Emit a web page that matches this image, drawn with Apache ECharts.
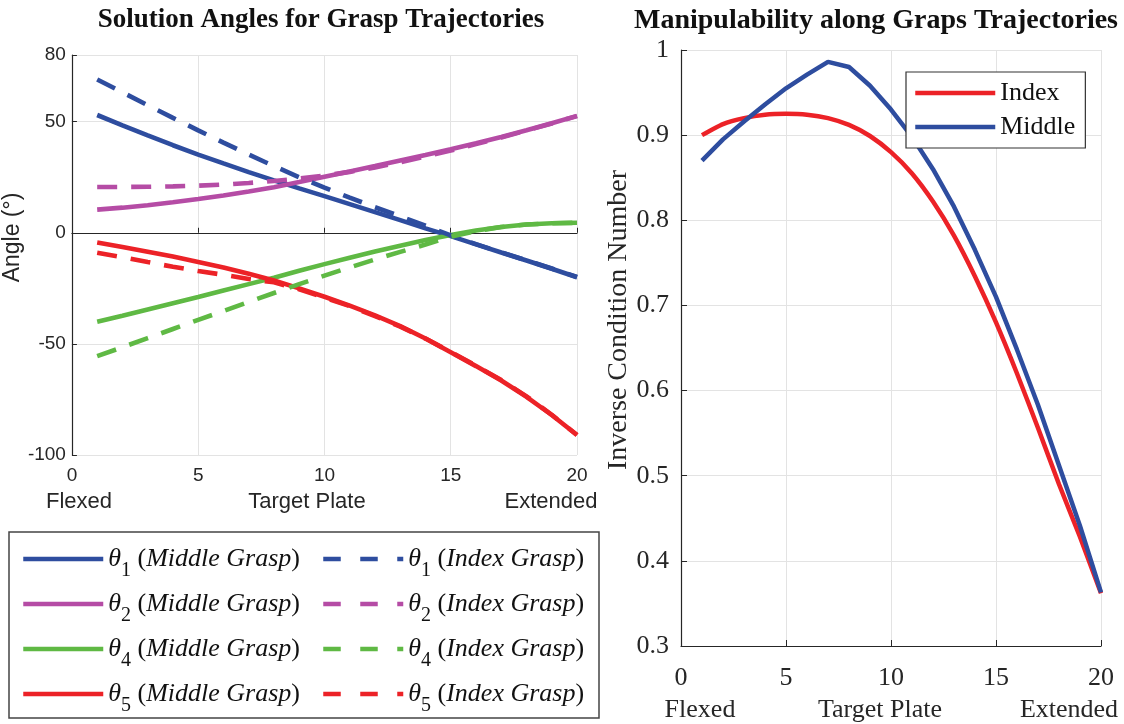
<!DOCTYPE html>
<html>
<head>
<meta charset="utf-8">
<title>Grasp Trajectories</title>
<script src="https://cdn.jsdelivr.net/npm/echarts@6/dist/echarts.min.js"></script>
<style>
    html, body { margin: 0; padding: 0; background: #fff; }
    #chart { width: 1124px; height: 724px; }
</style>
</head>
<body>
<div id="chart"></div>
<script>
// trajectory steps (x)
var steps = [1, 2, 3, 4, 5, 6, 7, 8, 9, 10, 11, 12, 13, 14, 15, 16, 17, 18, 19, 20];

// left plot: joint angles (deg)
var theta1Middle = [53, 48.3, 43.8, 39.4, 35.2, 31.2, 27.3, 23.6, 20.0, 16.5, 12.9, 9.3, 5.7, 2.0, -1.5, -5.2, -8.9, -12.5, -16.2, -20.0];
var theta1Index = [69, 63.2, 57.4, 51.7, 46.1, 40.6, 35.2, 30.0, 25.0, 20.3, 15.8, 11.5, 7.4, 3.2, -1.2, -5.1, -8.8, -12.4, -16.1, -19.9];
var theta2Middle = [10.4, 11.3, 12.4, 13.7, 15.2, 16.8, 18.6, 20.5, 22.8, 25.2, 27.6, 30.0, 32.5, 35.0, 37.6, 40.3, 43.1, 46.1, 49.3, 52.6];
var theta2Index = [20.6, 20.6, 20.7, 20.9, 21.2, 21.7, 22.4, 23.3, 24.4, 25.7, 27.4, 29.4, 31.7, 34.3, 37.0, 39.9, 42.9, 46.0, 49.2, 52.5];
var theta4Middle = [-40, -37.3, -34.5, -31.7, -28.9, -26.0, -23.1, -20.2, -17.1, -14.1, -11.2, -8.4, -5.8, -3.3, -1.0, 1.0, 2.6, 3.7, 4.3, 4.5];
var theta4Index = [-55.5, -51.5, -47.4, -43.3, -39.2, -35.2, -31.1, -27.1, -23.1, -19.3, -15.6, -12.0, -8.6, -5.3, -1.8, 0.8, 2.6, 3.7, 4.3, 4.5];
var theta5Middle = [-4.4, -6.4, -8.5, -10.7, -13.1, -15.6, -18.4, -21.5, -25.0, -28.8, -32.8, -37.2, -42.0, -47.6, -53.8, -60.0, -66.5, -73.8, -82.0, -91.0];
var theta5Index = [-9.0, -11.0, -13.2, -15.3, -17.2, -18.9, -20.8, -22.3, -25.4, -29.2, -33.0, -37.5, -42.2, -47.6, -53.6, -59.8, -66.3, -73.6, -81.9, -91.0];

// right plot: inverse condition number
var manipIndex = [0.900, 0.913, 0.920, 0.924, 0.925, 0.924, 0.920, 0.912, 0.899, 0.880, 0.855, 0.822, 0.782, 0.734, 0.680, 0.620, 0.556, 0.490, 0.428, 0.362];
var manipMiddle = [0.870, 0.895, 0.916, 0.936, 0.955, 0.971, 0.986, 0.980, 0.958, 0.930, 0.898, 0.860, 0.816, 0.765, 0.710, 0.648, 0.583, 0.512, 0.441, 0.363];

var BLUE = '#2e4d9f', PINK = '#b54ca5', GREEN = '#5fb944', RED = '#ec2227';
var SANS = 'Liberation Sans', SERIF = 'Liberation Serif';

function pairs(ys) {
    return steps.map(function (x, i) { return [x, ys[i]]; });
}

function angleLine(name, ys, color, dashed) {
    return {
        name: name,
        type: 'line',
        xAxisIndex: 0,
        yAxisIndex: 0,
        symbol: 'none',
        lineStyle: { color: color, width: 4.6, type: dashed ? [20, 14] : 'solid' },
        itemStyle: { color: color },
        data: pairs(ys)
    };
}

// θ1 (Middle Grasp) -> rich text with subscript + italics
function thetaLabel(name) {
    var m = name.match(/^θ(\d) \((.+)\)$/);
    return '{th|θ}{sub|' + m[1] + '}{p| (}{it|' + m[2] + '}{p|)}';
}

var legendRich = {
    th: { fontFamily: SERIF, fontStyle: 'italic', fontSize: 26, lineHeight: 44, verticalAlign: 'middle', color: '#111' },
    sub: { fontFamily: SERIF, fontSize: 20, lineHeight: 14, verticalAlign: 'bottom', color: '#111' },
    p: { fontFamily: SERIF, fontSize: 26, lineHeight: 44, verticalAlign: 'middle', color: '#111' },
    it: { fontFamily: SERIF, fontStyle: 'italic', fontSize: 26, lineHeight: 44, verticalAlign: 'middle', color: '#111' }
};

var myChart = echarts.init(document.getElementById('chart'));

myChart.setOption({
    backgroundColor: '#fff',
    animation: false,
    title: [
        {
            text: 'Solution Angles for Grasp Trajectories',
            left: 316, top: 2, textAlign: 'center',
            textStyle: { fontFamily: SERIF, fontWeight: 'bold', fontSize: 27, color: '#111' }
        },
        {
            text: 'Manipulability along Graps Trajectories',
            left: 871, top: 2, textAlign: 'center',
            textStyle: { fontFamily: SERIF, fontWeight: 'bold', fontSize: 28, color: '#111' }
        }
    ],
    grid: [
        { left: 67, top: 55, width: 510, height: 400 },
        { left: 681, top: 50, width: 420, height: 596 }
    ],
    xAxis: [
        {
            gridIndex: 0, type: 'value', min: 0, max: 20, interval: 5,
            axisLine: { lineStyle: { color: '#262626', width: 1.2 } },
            axisTick: { inside: true, length: 5, lineStyle: { color: '#262626' } },
            axisLabel: { margin: 11, fontFamily: SANS, fontSize: 19, color: '#262626' },
            splitLine: { show: true, lineStyle: { color: '#e3e3e3', width: 1 } }
        },
        {
            gridIndex: 1, type: 'value', min: 0, max: 20, interval: 5,
            axisLine: { lineStyle: { color: '#262626', width: 1.2 } },
            axisTick: { inside: true, length: 6, lineStyle: { color: '#262626' } },
            axisLabel: { margin: 19, fontFamily: SERIF, fontSize: 26, color: '#262626' },
            splitLine: { show: true, lineStyle: { color: '#e3e3e3', width: 1 } }
        }
    ],
    yAxis: [
        {
            gridIndex: 0, type: 'value', min: -100, max: 80, interval: 50,
            name: 'Angle (°)', nameLocation: 'middle', nameGap: 16,
            nameTextStyle: { fontFamily: SANS, fontSize: 23, color: '#262626', padding: [0, 0, 0, 35] },
            axisLine: { show: true, lineStyle: { color: '#262626', width: 1.2 } },
            axisTick: { show: true, inside: true, length: 5, lineStyle: { color: '#262626' } },
            axisLabel: { margin: 6, fontFamily: SANS, fontSize: 19, color: '#262626' },
            splitLine: { show: true, lineStyle: { color: '#e3e3e3', width: 1 } }
        },
        {
            gridIndex: 1, type: 'value', min: 0.3, max: 1, interval: 0.1,
            name: 'Inverse Condition Number', nameLocation: 'middle', nameGap: 44,
            nameTextStyle: { fontFamily: SERIF, fontSize: 28, color: '#262626', padding: [0, 0, 0, 56] },
            axisLine: { show: true, lineStyle: { color: '#262626', width: 1.2 } },
            axisTick: { show: true, inside: true, length: 6, lineStyle: { color: '#262626' } },
            axisLabel: {
                margin: 12, fontFamily: SERIF, fontSize: 26, color: '#262626',
                formatter: function (v) { return Math.abs(v - 1) < 1e-9 ? '1' : v.toFixed(1); }
            },
            splitLine: { show: true, lineStyle: { color: '#e3e3e3', width: 1 } }
        }
    ],
    legend: [
        {//left legend, first column (solid)
            orient: 'vertical', left: 21, top: 546, padding: 0, itemGap: 10,
            itemWidth: 80, itemHeight: 14,
            itemStyle: { opacity: 0 },
            lineStyle: { width: 4.5 },
            data: ['θ1 (Middle Grasp)', 'θ2 (Middle Grasp)', 'θ4 (Middle Grasp)', 'θ5 (Middle Grasp)'],
            formatter: thetaLabel,
            textStyle: { rich: legendRich }
        },
        {//left legend, second column (dashed)
            orient: 'vertical', left: 321, top: 546, padding: 0, itemGap: 10,
            itemWidth: 80, itemHeight: 14,
            itemStyle: { opacity: 0 },
            lineStyle: { width: 4.5, type: [17.5, 19.5] },
            data: ['θ1 (Index Grasp)', 'θ2 (Index Grasp)', 'θ4 (Index Grasp)', 'θ5 (Index Grasp)'],
            formatter: thetaLabel,
            textStyle: { rich: legendRich }
        },
        {//right legend
            orient: 'vertical', left: 906, top: 72, padding: [6, 10, 6, 7], itemGap: 4,
            itemWidth: 80, itemHeight: 14,
            itemStyle: { opacity: 0 },
            lineStyle: { width: 4.5 },
            backgroundColor: '#fff', borderColor: '#333', borderWidth: 1.2, borderRadius: 0,
            data: ['Index', 'Middle'],
            textStyle: { fontFamily: SERIF, fontSize: 26, lineHeight: 30, color: '#111' }
        }
    ],
    graphic: [
        {
            type: 'rect', silent: true,
            shape: { x: 9, y: 532, width: 590, height: 186 },
            style: { fill: 'none', stroke: '#444', lineWidth: 1.5 }
        },
        { type: 'text', x: 79, y: 502, style: { text: 'Flexed', fontFamily: SANS, fontSize: 22, fill: '#262626', align: 'center', verticalAlign: 'middle' } },
        { type: 'text', x: 307, y: 502, style: { text: 'Target Plate', fontFamily: SANS, fontSize: 22, fill: '#262626', align: 'center', verticalAlign: 'middle' } },
        { type: 'text', x: 551, y: 502, style: { text: 'Extended', fontFamily: SANS, fontSize: 22, fill: '#262626', align: 'center', verticalAlign: 'middle' } },
        { type: 'text', x: 700, y: 710, style: { text: 'Flexed', fontFamily: SERIF, fontSize: 26, fill: '#262626', align: 'center', verticalAlign: 'middle' } },
        { type: 'text', x: 880, y: 710, style: { text: 'Target Plate', fontFamily: SERIF, fontSize: 26, fill: '#262626', align: 'center', verticalAlign: 'middle' } },
        { type: 'text', x: 1069, y: 710, style: { text: 'Extended', fontFamily: SERIF, fontSize: 26, fill: '#262626', align: 'center', verticalAlign: 'middle' } }
    ],
    series: [
        angleLine('θ1 (Middle Grasp)', theta1Middle, BLUE, false),
        angleLine('θ2 (Middle Grasp)', theta2Middle, PINK, false),
        angleLine('θ4 (Middle Grasp)', theta4Middle, GREEN, false),
        angleLine('θ5 (Middle Grasp)', theta5Middle, RED, false),
        angleLine('θ1 (Index Grasp)', theta1Index, BLUE, true),
        angleLine('θ2 (Index Grasp)', theta2Index, PINK, true),
        angleLine('θ4 (Index Grasp)', theta4Index, GREEN, true),
        angleLine('θ5 (Index Grasp)', theta5Index, RED, true),
        {
            name: 'Index', type: 'line', xAxisIndex: 1, yAxisIndex: 1,
            symbol: 'none', smooth: 0.2,
            lineStyle: { color: RED, width: 4.5 }, itemStyle: { color: RED },
            data: pairs(manipIndex)
        },
        {
            name: 'Middle', type: 'line', xAxisIndex: 1, yAxisIndex: 1,
            symbol: 'none',
            lineStyle: { color: BLUE, width: 4.5 }, itemStyle: { color: BLUE },
            data: pairs(manipMiddle)
        }
    ]
});
</script>
</body>
</html>
